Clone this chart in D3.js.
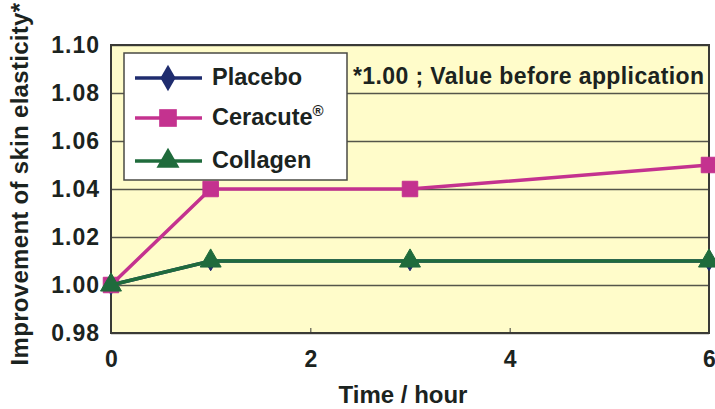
<!DOCTYPE html>
<html>
<head>
<meta charset="utf-8">
<script src="https://cdn.jsdelivr.net/npm/d3@7"></script>
<style>
	body { margin: 0; background: #fff; }
	svg text { font-family: "Liberation Sans", Arial, sans-serif; font-weight: bold; fill: #1b2320; }
</style>
</head>
<body>
<div class="js-graph"></div>
<script>
var hours = [0, 1, 3, 6],
	placebo = [1.00, 1.01, 1.01, 1.01],
	ceracute = [1.00, 1.04, 1.04, 1.05],
	collagen = [1.00, 1.01, 1.01, 1.01],
	yTicks = [0.98, 1.00, 1.02, 1.04, 1.06, 1.08, 1.10],
	xTicks = [0, 2, 4, 6];

(function(d3) {
	var w = 715, h = 409,
		m = { left: 111, right: 6, top: 45, bottom: 76 },
		graph = d3.select('.js-graph').append('svg').attr('width', w).attr('height', h);

	var x = d3.scaleLinear().domain([0, 6]).range([m.left, w - m.right]),
		y = d3.scaleLinear().domain([0.98, 1.10]).range([h - m.bottom, m.top]);

	// plot background
	graph.append('rect')
		.attr('x', x(0)).attr('y', y(1.10))
		.attr('width', x(6) - x(0)).attr('height', y(0.98) - y(1.10))
		.attr('fill', '#fffcca');

	// gridlines
	graph.append('g')
		.attr('transform', 'translate(' + x(0) + ',0)')
		.call(d3.axisLeft(y).tickValues(yTicks).tickSize(-(x(6) - x(0))).tickFormat(''))
		.call(function(g) {
			g.select('.domain').remove();
			g.selectAll('line').attr('stroke', '#55554a').attr('stroke-width', 1.3);
		});

	// frame
	graph.append('rect')
		.attr('x', x(0)).attr('y', y(1.10))
		.attr('width', x(6) - x(0)).attr('height', y(0.98) - y(1.10))
		.attr('fill', 'none').attr('stroke', '#3a3a36').attr('stroke-width', 2);

	// y labels
	graph.append('g')
		.attr('transform', 'translate(' + x(0) + ',0)')
		.call(d3.axisLeft(y).tickValues(yTicks).tickSize(0).tickPadding(11).tickFormat(d3.format('.2f')))
		.call(function(g) {
			g.select('.domain').remove();
			g.selectAll('text').style('font-size', '23px').style('letter-spacing', '1px').attr('fill', '#1b2320');
		});

	// x axis
	graph.append('g')
		.attr('transform', 'translate(0,' + y(0.98) + ')')
		.call(d3.axisBottom(x).tickValues(xTicks).tickSize(-5).tickPadding(18).tickFormat(d3.format('d')))
		.call(function(g) {
			g.select('.domain').remove();
			g.selectAll('line').attr('stroke', '#3a3a36');
			g.selectAll('text').style('font-size', '23px').attr('fill', '#1b2320');
		});

	graph.append('text')
		.attr('x', 403).attr('y', 403)
		.attr('text-anchor', 'middle')
		.style('font-size', '24px')
		.text('Time / hour');

	graph.append('text')
		.attr('transform', 'translate(28,184) rotate(-90)')
		.attr('text-anchor', 'middle')
		.style('font-size', '24px').style('letter-spacing', '0.3px')
		.text('Improvement of skin elasticity*');

	graph.append('text')
		.attr('x', 353).attr('y', 84)
		.style('font-size', '23px').style('letter-spacing', '0.4px')
		.text('*1.00 ; Value before application');

	var series = [
		{ name: 'Placebo', values: placebo, color: '#1f2c6e', shape: d3.symbolDiamond, size: 110 },
		{ name: 'Ceracute', values: ceracute, color: '#c4328f', shape: d3.symbolSquare, size: 240 },
		{ name: 'Collagen', values: collagen, color: '#1f6b3c', shape: d3.symbolTriangle, size: 190 }
	];

	var line = d3.line()
		.x(function(d) { return x(d.t); })
		.y(function(d) { return y(d.v); });

	series.forEach(function(s) {
		var pts = hours.map(function(t, i) { return { t: t, v: s.values[i] }; });
		graph.append('path')
			.datum(pts)
			.attr('d', line)
			.attr('fill', 'none')
			.attr('stroke', s.color)
			.attr('stroke-width', 3.5);
		graph.selectAll('.m-' + s.name)
			.data(pts)
			.enter()
			.append('path')
			.attr('transform', function(d) { return 'translate(' + x(d.t) + ',' + y(d.v) + ')'; })
			.attr('d', d3.symbol().type(s.shape).size(s.size))
			.attr('fill', s.color)
			.attr('stroke', s.color)
			.attr('stroke-width', 1);
	});

	// legend
	var lg = graph.append('g');
	lg.append('rect')
		.attr('x', 124).attr('y', 53).attr('width', 223).attr('height', 127)
		.attr('fill', '#ffffff').attr('stroke', '#4a4a44').attr('stroke-width', 1.5);
	var rows = [78, 118, 161],
		legendSize = [200, 312, 230];
	series.forEach(function(s, i) {
		var ly = rows[i];
		lg.append('line')
			.attr('x1', 135).attr('x2', 202).attr('y1', ly).attr('y2', ly)
			.attr('stroke', s.color).attr('stroke-width', 3.5);
		lg.append('path')
			.attr('transform', 'translate(168,' + ly + ')')
			.attr('d', d3.symbol().type(s.shape).size(legendSize[i]))
			.attr('fill', s.color);
		var t = lg.append('text')
			.attr('x', 212).attr('y', ly + 7)
			.style('font-size', '23.5px')
			.text(s.name);
		if (s.name === 'Ceracute') {
			t.append('tspan').attr('dy', -9).style('font-size', '15px').text('®');
		}
	});
})(d3);
</script>
</body>
</html>
